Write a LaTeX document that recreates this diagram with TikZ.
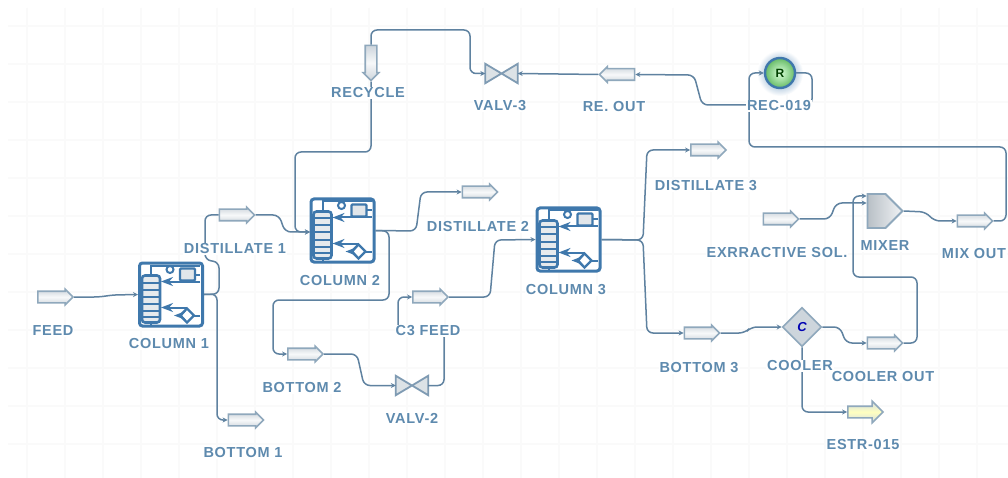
\documentclass[tikz,border=0pt]{standalone}
\usepackage{fontspec}
\setmainfont{Liberation Sans}
\newfontfamily\tagfont[LetterSpace=5.0]{Liberation Sans}
\usetikzlibrary{shapes.arrows, shapes.symbols, shapes.geometric, arrows.meta}

\definecolor{pipeblue}{HTML}{5F82A0}
\definecolor{iconblue}{HTML}{3F78AC}
\definecolor{labelblue}{HTML}{5E8AAE}
\definecolor{streamline}{HTML}{8FA8BC}
\definecolor{streamfill}{HTML}{CDD5DC}

\tikzset{
    pipe/.style={draw=pipeblue, line width=1.5pt, rounded corners=6pt, -{Stealth[length=5pt, width=5pt]}},
    plainpipe/.style={draw=pipeblue, line width=1.5pt, rounded corners=6pt},
    tag/.style={text=labelblue, font=\tagfont\bfseries\fontsize{14.5}{16}\selectfont, fill=white, inner sep=1pt},
    stream/.style={single arrow, draw=streamline, line width=1.6pt, inner sep=0pt,
        minimum height=35pt, text height=10pt, text depth=0pt, single arrow head extend=2pt,
        single arrow head indent=0pt, top color=streamfill, bottom color=streamfill, middle color=white!85!streamfill},
    colbox/.style={rectangle, draw=iconblue, line width=3pt, rounded corners=3pt, fill=white, minimum size=63pt, inner sep=0pt},
    valvebox/.style={rectangle, minimum width=32pt, minimum height=19pt, inner sep=0pt},
    pics/towericon/.style={code={
        \draw[iconblue, line width=2pt] (-20,-19) -- (-20,-29) -- (29,-29);
        \draw[iconblue, line width=2pt] (-20,28) -- (-20,31);
        \draw[iconblue, line width=2.6pt, rounded corners=3pt, fill=streamfill!50] (-29,-19) rectangle (-11,28);
        \foreach \t in {-12,-5,2,9,16,22} {
            \draw[iconblue, line width=2pt] (-29,\t) -- (-11,\t);
        }
        \draw[iconblue, line width=2pt, fill=white] (-1,-25) circle (3.5);
        \draw[iconblue, line width=2.4pt, rounded corners=1pt, fill=streamfill!60] (9,-26) rectangle (24,-14);
        \draw[iconblue, line width=2pt, ->, >=Stealth] (29,-13) -- (-10,-13);
        \draw[iconblue, line width=2pt] (24,-20) -- (29,-20);
        \draw[iconblue, line width=2pt, ->, >=Stealth] (16,13) -- (-10,13);
        \draw[iconblue, line width=2.4pt, fill=white] (16,14) -- (23,21) -- (16,28) -- (9,21) -- cycle;
        \draw[iconblue, line width=2pt, ->, >=Stealth] (9,21) -- (3,21);
        \draw[iconblue, line width=2pt] (23,21) -- (29,21);
    }}
}

\newcommand{\valveicon}[1]{
    \draw[pipeblue!80, line width=1.8pt, fill=streamfill!70]
        (#1.north west) -- (#1.south east) -- (#1.north east) -- (#1.south west) -- cycle;
}

\begin{document}
\begin{tikzpicture}[x=1pt, y=-1pt]
    \useasboundingbox (0,0) rectangle (1008,478);
    \fill[white] (0,0) rectangle (1008,478);

    % Grid
    \foreach \gx in {27,65,...,1008} {
        \draw[black!2, line width=1.4pt] (\gx,8) -- (\gx,478);
    }
    \foreach \gy in {26,64,...,478} {
        \draw[black!2, line width=1.4pt] (8,\gy) -- (1008,\gy);
    }

    % Columns
    \node[colbox] (col1) at (171,294.5) {};
    \node[colbox] (col2) at (342.5,230.5) {};
    \node[colbox] (col3) at (568.5,239.5) {};
    \pic at (col1) {towericon};
    \pic at (col2) {towericon};
    \pic at (col3) {towericon};

    % Streams
    \node[stream] (feed) at (52.5,297) {};
    \node[stream] (dist1) at (234,215) {};
    \node[stream] (bot1) at (243,420) {};
    \node[stream] (bot2) at (302.5,354) {};
    \node[stream] (dist2) at (477,192) {};
    \node[stream] (c3feed) at (427.5,297) {};
    \node[stream] (dist3) at (705.5,150) {};
    \node[stream] (bot3) at (699,333) {};
    \node[stream] (coolout) at (882,343) {};
    \node[stream] (solv) at (778,219) {};
    \node[stream] (mixout) at (972,221) {};
    \node[stream, shape border rotate=270, text height=0pt, text width=10pt] (recyc) at (371,60) {};
    \node[stream, shape border rotate=180] (reout) at (620,74.5) {};
    \node[stream, top color=streamline!40, bottom color=streamline!40, middle color=yellow!25, single arrow head extend=5pt] (estr) at (862.5,412) {};

    % Valves
    \node[valvebox] (valv3) at (501.5,73.5) {};
    \node[valvebox] (valv2) at (412,385.5) {};
    \valveicon{valv3}
    \valveicon{valv2}

    % Mixer, cooler, recycle block
    \node[signal, signal to=east, signal pointer angle=90, draw=streamline, line width=1.8pt,
        left color=streamfill!90!black, right color=streamfill!30, minimum width=35pt, minimum height=34pt, inner sep=0pt] (mixer) at (876.5,211) {};
    \node[diamond, draw=streamline, line width=1.6pt, fill=streamfill, minimum size=39pt, inner sep=0pt,
        font=\itshape\bfseries\fontsize{13}{13}\selectfont, text=blue!70!black] (cooler) at (802,327) {C};
    \shade[inner color=iconblue!90, outer color=white] (780,73) circle (23);
    \node[circle, draw=iconblue, line width=2.4pt, inner color=green!15!white, outer color=green!55!black!60,
        minimum size=30pt, inner sep=0pt, font=\bfseries\fontsize{12}{12}\selectfont, text=black!75!green] (rec) at (780,73) {R};

    % Connectors
    \draw[pipe] (feed.tip) -- (100,297) -- (112,295) -- (col1.west);
    \draw[plainpipe] (col1.east) -- (219,294) -- (219,262) -- (205,260) -- (205,215) -- (dist1.tail);
    \draw[pipe] (dist1.tip) -- (279,215) -- (285,232) -- (310,232);
    \draw[pipe] (col1.east) -- (217,294) -- (217,420) -- (bot1.tail);
    \draw[pipe] (recyc.tip) -- (371,152) -- (295,152) -- (295,232) -- (310,232);
    \draw[pipe] (recyc.tail) -- (371,30) -- (470,30) -- (470,73.5) -- (valv3.west);
    \draw[pipe] (reout.tip) -- (valv3.east);
    \draw[pipe] (rec.east) -- (812,73) -- (812,105) -- (702,105) -- (694,75) -- (reout.tail);
    \draw[pipe] (mixout.tip) -- (1006,221) -- (1006,147) -- (749,147) -- (749,73) -- (rec.west);
    \draw[pipe] (col2.east) -- (389,231) -- (389,300) -- (273,300) -- (273,354) -- (bot2.tail);
    \draw[pipe] (col2.east) -- (416,231) -- (421,192) -- (dist2.tail);
    \draw[pipe] (bot2.tip) -- (357,354) -- (364,385.5) -- (valv2.west);
    \draw[pipe] (valv2.east) -- (444,385.5) -- (444,331) -- (398,331) -- (398,297) -- (c3feed.tail);
    \draw[pipe] (c3feed.tip) -- (490,297) -- (495,240) -- (col3.west);
    \draw[pipe] (col3.east) -- (643,240) -- (647,150) -- (dist3.tail);
    \draw[pipe] (col3.east) -- (643,240) -- (647,333) -- (bot3.tail);
    \draw[pipe] (bot3.tip) -- (745,333) -- (751,327) -- (cooler.west);
    \draw[pipe] (cooler.east) -- (840,327) -- (846,343) -- (coolout.tail);
    \draw[pipe] (coolout.tip) -- (917,343) -- (917,277) -- (853,277) -- (853,196) -- ([yshift=15pt]mixer.west);
    \draw[pipe] (solv.tip) -- (830,219) -- (836,203) -- ([yshift=8pt]mixer.west);
    \draw[pipe] (mixer.east) -- (926,212) -- (934,221) -- (mixout.tail);
    \draw[pipe] (cooler.south) -- (802,412) -- (estr.tail);

    % Labels
    \node[tag] (lfeed) at (53,331) {FEED};
    \node[tag] (lcol1) at (169,344) {COLUMN 1};
    \node[tag] (ldist1) at (235,249) {DISTILLATE 1};
    \node[tag] (lcol2) at (340,281) {COLUMN 2};
    \node[tag] (lrecyc) at (368,93) {RECYCLE};
    \node[tag] (lvalv3) at (500,106) {VALV-3};
    \node[tag] (lreout) at (614,107) {RE. OUT};
    \node[tag] (lrec) at (779,106) {REC-019};
    \node[tag] (ldist3) at (706,186) {DISTILLATE 3};
    \node[tag] (ldist2) at (478,227) {DISTILLATE 2};
    \node[tag] (lcol3) at (566,290) {COLUMN 3};
    \node[tag] (lc3) at (428,331) {C3 FEED};
    \node[tag] (lbot2) at (302,388) {BOTTOM 2};
    \node[tag] (lvalv2) at (412,418) {VALV-2};
    \node[tag] (lbot1) at (243,453) {BOTTOM 1};
    \node[tag] (lbot3) at (699,368) {BOTTOM 3};
    \node[tag] (lcool) at (800,366) {COOLER};
    \node[tag] (lcoolout) at (883,377) {COOLER OUT};
    \node[tag] (lestr) at (863,445) {ESTR-015};
    \node[tag] (lsolv) at (777,253) {EXRRACTIVE SOL.};
    \node[tag] (lmixer) at (885,246) {MIXER};
    \node[tag] (lmixout) at (974,254) {MIX OUT};
\end{tikzpicture}
\end{document}
